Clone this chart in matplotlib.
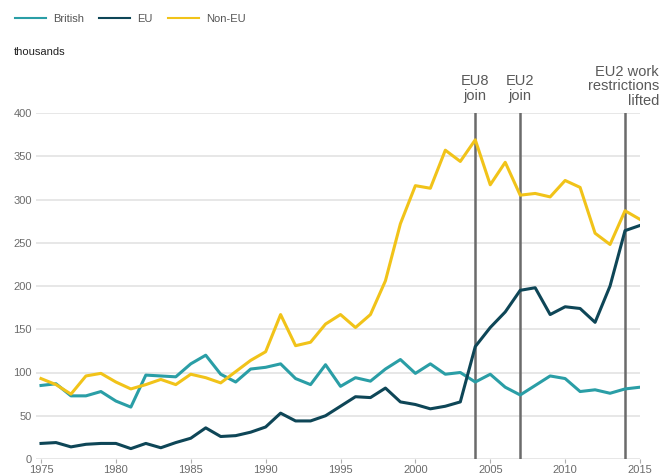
import matplotlib.pyplot as plt
from matplotlib.lines import Line2D

plt.rcParams["font.family"] = ["Liberation Sans", "DejaVu Sans"]

years = list(range(1975, 2016))
british = [85, 87, 73, 73, 78, 67, 60, 97, 96, 95, 110, 120, 98, 89, 104, 106, 110, 93, 86, 109,
           84, 94, 90, 104, 115, 99, 110, 98, 100, 89, 98, 83, 74, 85, 96, 93, 78, 80, 76, 81, 83]
eu = [18, 19, 14, 17, 18, 18, 12, 18, 13, 19, 24, 36, 26, 27, 31, 37, 53, 44, 44, 50,
      61, 72, 71, 82, 66, 63, 58, 61, 66, 130, 152, 170, 195, 198, 167, 176, 174, 158, 200, 264, 270]
non_eu = [93, 86, 75, 96, 99, 89, 81, 86, 92, 86, 98, 94, 88, 101, 114, 124, 167, 131, 135, 156,
          167, 152, 167, 206, 272, 316, 313, 357, 344, 369, 317, 343, 305, 307, 303, 322, 314, 261, 248, 287, 277]

events = [2004, 2007, 2014]
event_labels = ["EU8\njoin", "EU2\njoin", "EU2 work\nrestrictions\nlifted"]

c_brit = "#2a9ea6"
c_eu = "#0e4657"
c_non = "#f1c319"

fig = plt.figure(figsize=(6.61, 4.75), dpi=100)
ax = fig.add_axes([36 / 661, 1 - 459 / 475, (640 - 36) / 661, (459 - 113) / 475])

for y in range(0, 401, 50):
    ax.axhline(y, color="#e3e3e3", lw=1.2, zorder=0)

for e in events:
    ax.axvline(e, color="#6b6b6b", lw=1.8, zorder=1)

ax.plot(years, british, color=c_brit, lw=2.2, zorder=3)
ax.plot(years, eu, color=c_eu, lw=2.2, zorder=3)
ax.plot(years, non_eu, color=c_non, lw=2.2, zorder=3)

ax.set_xlim(1975 - 5 / 14.97, 2015)
ax.set_ylim(0, 400)
for s in ax.spines.values():
    s.set_visible(False)
ax.set_xticks(range(1975, 2016, 5))
ax.set_yticks(range(0, 401, 50))
ax.tick_params(axis="y", length=0, pad=3, labelsize=8, labelcolor="#6b6b6b")
ax.tick_params(axis="x", length=3, color="#b0b0b0", pad=1, labelsize=8, labelcolor="#6b6b6b")

# event labels
ax.text(2004, 412, event_labels[0], ha="center", va="bottom", fontsize=10.5, color="#595959", linespacing=1.05)
ax.text(2007, 412, event_labels[1], ha="center", va="bottom", fontsize=10.5, color="#595959", linespacing=1.05)
fig.text(659 / 661, 1 - 108 / 475, event_labels[2], ha="right", va="bottom", fontsize=10.5,
         color="#595959", linespacing=1.05, multialignment="right")

fig.text(14 / 661, 1 - 52 / 475, "thousands", ha="left", va="center", fontsize=8, color="#222222")

handles = [Line2D([], [], color=c_brit, lw=1.5),
           Line2D([], [], color=c_eu, lw=1.5),
           Line2D([], [], color=c_non, lw=1.5)]
fig.legend(handles, ["British", "EU", "Non-EU"], loc="center left", bbox_to_anchor=(5 / 661, 1 - 19 / 475),
           ncol=3, frameon=False, fontsize=8, handlelength=2.8, columnspacing=1.4, handletextpad=0.6,
           labelcolor="#555555")

fig.savefig("out.png", dpi=100)
